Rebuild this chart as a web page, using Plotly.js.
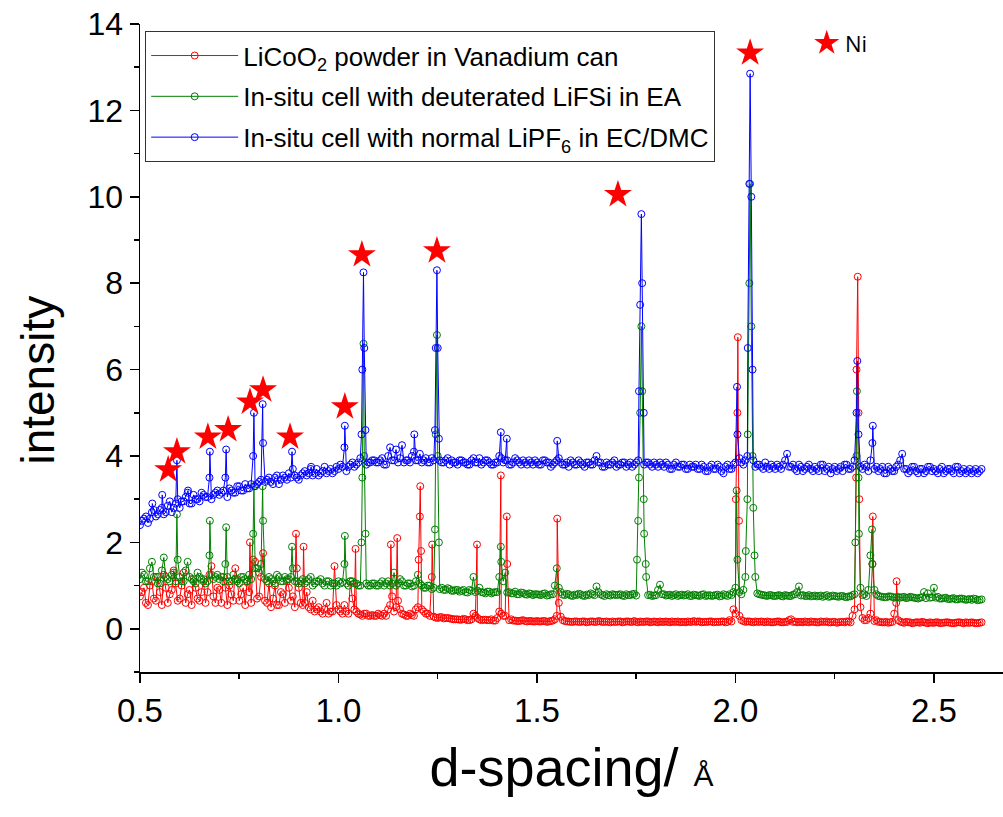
<!DOCTYPE html>
<html>
<head>
<meta charset="utf-8">
<script src="https://cdn.plot.ly/plotly-3.0.1.min.js"></script>
<style>html,body{margin:0;padding:0;background:#fff;}#chart{width:1003px;height:817px;}</style>
</head>
<body>
<div id="chart"></div>
<script>
// d-spacing grid (Å)
const dGrid = [
0.50,0.51,0.52,0.53,0.54,0.55,0.56,0.57,0.58,0.59,
0.60,0.61,0.62,0.63,0.64,0.65,0.66,0.67,0.68,0.69,
0.70,0.71,0.72,0.73,0.74,0.75,0.76,0.77,0.78,0.79,
0.80,0.81,0.82,0.83,0.84,0.85,0.86,0.87,0.88,0.89,
0.90,0.91,0.92,0.93,0.94,0.95,0.96,0.97,0.98,0.99,
1.00,1.01,1.02,1.03,1.04,1.05,1.06,1.07,1.08,1.09,
1.10,1.11,1.12,1.13,1.14,1.15,1.16,1.17,1.18,1.19,
1.20,1.21,1.22,1.23,1.24,1.25,1.26,1.27,1.28,1.29,
1.30,1.31,1.32,1.33,1.34,1.35,1.36,1.37,1.38,1.39,
1.40,1.41,1.42,1.43,1.44,1.45,1.46,1.47,1.48,1.49,
1.50,1.51,1.52,1.53,1.54,1.55,1.56,1.57,1.58,1.59,
1.60,1.61,1.62,1.63,1.64,1.65,1.66,1.67,1.68,1.69,
1.70,1.71,1.72,1.73,1.74,1.75,1.76,1.77,1.78,1.79,
1.80,1.81,1.82,1.83,1.84,1.85,1.86,1.87,1.88,1.89,
1.90,1.91,1.92,1.93,1.94,1.95,1.96,1.97,1.98,1.99,
2.00,2.01,2.02,2.03,2.04,2.05,2.06,2.07,2.08,2.09,
2.10,2.11,2.12,2.13,2.14,2.15,2.16,2.17,2.18,2.19,
2.20,2.21,2.22,2.23,2.24,2.25,2.26,2.27,2.28,2.29,
2.30,2.31,2.32,2.33,2.34,2.35,2.36,2.37,2.38,2.39,
2.40,2.41,2.42,2.43,2.44,2.45,2.46,2.47,2.48,2.49,
2.50,2.51,2.52,2.53,2.54,2.55,2.56,2.57,2.58,2.59,
2.60,2.61,2.62];
// interleaved half-step positions (Å)
const dHalf = [
0.505,0.515,0.525,0.535,0.545,0.555,0.565,0.575,0.585,0.595,
0.605,0.615,0.625,0.635,0.645,0.655,0.665,0.675,0.685,0.695,
0.705,0.715,0.725,0.735,0.745,0.755,0.765,0.775,0.785,0.795,
0.805,0.815,0.825,0.835,0.845,0.855,0.865,0.875,0.885,0.895,
0.905,0.915,0.925,0.935,0.945,0.955,0.965,0.975,0.985,0.995,
1.005,1.015,1.025,1.035,1.045,1.055,1.065,1.075,1.085,1.095,
1.105,1.115,1.125,1.135,1.145,1.155,1.165,1.175,1.185,1.195,
1.205,1.215,1.225,1.235,1.245,1.255,1.265,1.275,1.285,1.295,
1.305,1.315,1.325,1.335,1.345,1.355,1.365,1.375,1.385,1.395,
1.405,1.415,1.425,1.435,1.445,1.455,1.465,1.475,1.485,1.495,
1.505,1.515,1.525,1.535,1.545,1.555,1.565,1.575,1.585,1.595,
1.605,1.615,1.625,1.635,1.645,1.655,1.665,1.675,1.685,1.695,
1.705,1.715,1.725,1.735,1.745,1.755,1.765,1.775,1.785,1.795,
1.805,1.815,1.825,1.835,1.845,1.855,1.865,1.875,1.885,1.895,
1.905,1.915,1.925,1.935,1.945,1.955,1.965,1.975,1.985,1.995,
2.005,2.015,2.025,2.035,2.045,2.055,2.065,2.075,2.085,2.095,
2.105,2.115,2.125,2.135,2.145,2.155,2.165,2.175,2.185,2.195,
2.205,2.215,2.225,2.235,2.245,2.255,2.265,2.275,2.285,2.295,
2.305,2.315,2.325,2.335,2.345,2.355,2.365,2.375,2.385,2.395,
2.405,2.415,2.425,2.435,2.445,2.455,2.465,2.475,2.485,2.495,
2.505,2.515,2.525,2.535,2.545,2.555,2.565,2.575,2.585,2.595,
2.605,2.615];

// LiCoO2 powder in Vanadium can (red)
const redGrid = [
0.75,0.95,0.55,1.10,0.65,0.85,1.25,0.60,0.90,1.05,
0.70,1.30,0.80,0.55,0.95,0.65,1.10,0.85,1.45,0.60,
0.90,1.20,0.55,0.80,1.40,0.65,0.95,1.10,0.60,1.55,
0.75,1.75,0.60,0.50,1.00,0.55,0.80,1.10,0.65,0.50,
0.95,0.55,0.85,0.45,0.40,0.50,0.35,0.60,0.40,1.45,
0.45,0.35,0.40,1.10,0.45,0.35,0.30,0.35,0.30,0.30,
0.35,0.30,0.30,0.55,0.40,0.65,0.35,0.30,0.35,0.30,
0.50,0.45,0.35,0.30,0.28,0.25,0.27,0.25,0.24,0.22,
0.22,0.21,0.22,0.20,0.35,0.25,0.20,0.21,0.20,0.19,
0.25,0.35,0.30,0.20,0.19,0.18,0.19,0.18,0.18,0.17,
0.18,0.17,0.18,0.17,0.19,0.30,0.28,0.18,0.17,0.16,
0.17,0.16,0.17,0.16,0.17,0.16,0.17,0.16,0.16,0.17,
0.16,0.17,0.16,0.17,0.16,0.16,0.17,0.16,0.17,0.16,
0.16,0.17,0.16,0.16,0.17,0.16,0.15,0.16,0.17,0.16,
0.16,0.17,0.16,0.16,0.17,0.16,0.16,0.17,0.16,0.17,
0.35,0.30,0.18,0.17,0.16,0.17,0.16,0.16,0.17,0.15,
0.16,0.17,0.15,0.16,0.22,0.17,0.16,0.15,0.16,0.17,
0.16,0.15,0.16,0.17,0.15,0.16,0.15,0.16,0.17,0.15,
0.45,5.00,0.25,0.20,0.35,0.18,0.16,0.15,0.16,0.15,
0.35,0.20,0.15,0.16,0.15,0.14,0.15,0.16,0.14,0.15,
0.14,0.15,0.14,0.15,0.14,0.13,0.15,0.14,0.15,0.14,
0.14,0.13,0.15];
const redHalf = [
0.85,0.60,1.00,0.70,1.20,0.55,0.95,0.80,1.35,0.65,
1.00,0.60,0.90,1.15,0.70,0.85,0.60,1.25,0.75,0.95,
0.60,0.95,1.00,0.65,1.15,0.80,0.55,0.85,1.60,0.70,
1.20,0.65,1.05,0.70,0.55,0.85,0.60,0.95,0.75,1.40,
0.60,0.60,0.50,0.65,0.45,0.40,0.45,0.35,0.40,0.55,
0.40,0.55,0.35,0.70,0.40,0.33,0.35,0.30,0.32,0.30,
0.32,0.35,0.45,0.75,0.50,0.45,0.33,0.30,0.32,0.45,
2.60,0.40,0.35,1.20,0.26,0.27,0.24,0.25,0.23,0.22,
0.21,0.23,0.20,0.22,0.30,0.22,0.21,0.20,0.22,0.19,
0.40,0.30,1.50,0.22,0.19,0.18,0.20,0.17,0.18,0.17,
0.17,0.18,0.16,0.18,0.22,0.60,0.20,0.17,0.16,0.17,
0.16,0.17,0.15,0.17,0.16,0.18,0.16,0.17,0.15,0.16,
0.17,0.15,0.17,0.16,0.18,0.15,0.16,0.17,0.15,0.17,
0.15,0.16,0.17,0.15,0.16,0.17,0.16,0.15,0.16,0.18,
0.17,0.15,0.16,0.17,0.15,0.16,0.17,0.15,0.20,0.45,
5.00,0.20,0.16,0.17,0.15,0.16,0.17,0.15,0.16,0.15,
0.17,0.15,0.16,0.20,0.16,0.15,0.16,0.17,0.15,0.16,
0.15,0.17,0.16,0.15,0.16,0.14,0.16,0.15,0.17,0.30,
6.00,0.50,0.20,0.25,1.50,0.20,0.16,0.15,0.14,0.16,
0.60,0.17,0.14,0.15,0.13,0.15,0.14,0.15,0.13,0.14,
0.15,0.13,0.14,0.15,0.13,0.14,0.15,0.13,0.14,0.15,
0.13,0.14];
const redPeakD = [0.777,0.893,0.912,1.043,1.132,1.148,1.202,1.206,1.208,1.236,1.349,1.409,1.424,1.551,2.001,2.006,2.009,2.304,2.308,2.312,2.346,2.406];
const redPeakI = [2.00,2.20,1.90,1.85,1.95,2.10,1.60,3.30,1.80,1.95,1.95,3.55,2.60,2.55,3.00,6.75,2.50,3.50,8.15,3.00,2.60,1.10];

// In-situ cell with deuterated LiFSi in EA (green)
const greenGrid = [
1.15,1.25,1.10,1.55,1.20,1.05,1.65,1.15,1.25,1.10,
1.20,1.10,1.55,1.15,1.05,1.20,1.15,1.10,1.25,1.20,
1.15,1.10,1.20,1.10,1.15,1.05,1.20,1.10,1.15,1.40,
1.30,2.50,1.10,1.15,1.05,1.20,1.10,1.15,1.20,1.10,
1.05,1.15,1.10,1.20,1.05,1.10,1.05,1.10,1.00,1.05,
1.10,1.08,1.05,1.10,1.05,1.00,3.50,1.05,1.00,1.05,
1.00,1.10,1.05,1.00,1.30,1.05,1.10,1.00,1.05,1.00,
1.25,1.00,0.95,1.00,0.95,4.00,0.95,0.90,0.92,0.88,
0.90,0.88,0.85,0.90,1.20,0.88,0.85,0.82,0.86,0.84,
0.85,1.55,1.30,0.85,0.82,0.80,0.84,0.80,0.82,0.78,
0.80,0.78,0.82,0.78,0.80,1.40,0.85,0.78,0.80,0.76,
0.78,0.80,0.76,0.78,0.80,0.98,0.80,0.76,0.78,0.80,
0.78,0.80,0.76,0.78,0.80,0.77,5.00,2.20,0.78,0.76,
0.78,1.02,0.80,0.78,0.76,0.80,0.78,0.77,0.80,0.76,
0.78,0.76,0.80,0.77,0.76,0.78,0.75,0.80,0.76,0.78,
0.95,0.85,0.90,3.00,7.00,1.20,0.80,0.78,0.76,0.78,
0.76,0.78,0.75,0.77,0.76,0.80,0.98,0.78,0.76,0.75,
0.77,0.76,0.74,0.78,0.75,0.76,0.74,0.76,0.73,0.75,
0.80,3.50,0.78,0.76,1.70,0.90,0.76,0.74,0.73,0.75,
0.72,0.74,0.73,0.71,0.74,0.72,0.70,0.73,0.71,0.72,
0.95,0.74,0.70,0.72,0.69,0.71,0.68,0.70,0.67,0.69,
0.70,0.66,0.68];
const greenHalf = [
1.30,1.10,1.40,1.20,1.05,1.35,1.20,1.10,1.30,1.60,
1.10,1.35,1.20,1.10,1.30,1.15,1.05,1.70,1.15,1.25,
1.20,1.50,1.10,1.25,1.10,1.20,1.15,1.25,2.20,1.40,
1.50,1.15,1.20,1.10,1.25,1.10,1.20,1.15,1.40,1.10,
1.10,1.05,1.15,1.00,1.10,1.15,1.00,1.10,1.05,1.00,
1.05,1.50,1.00,1.10,1.05,1.00,4.00,1.00,1.05,1.00,
1.05,1.00,1.10,1.05,1.00,1.15,1.00,1.05,0.98,1.10,
1.05,0.95,1.00,0.92,4.50,0.92,0.90,0.94,0.88,0.90,
0.86,0.90,0.84,0.88,0.85,0.95,0.84,0.86,0.82,0.85,
1.20,1.10,0.84,0.82,0.86,0.80,0.83,0.79,0.81,0.80,
0.79,0.81,0.77,0.80,1.00,0.95,0.79,0.81,0.77,0.79,
0.81,0.77,0.79,0.82,0.78,0.85,0.78,0.80,0.77,0.79,
0.79,0.77,0.80,0.78,0.81,2.50,5.50,1.20,0.79,0.77,
0.90,0.80,0.77,0.79,0.78,0.76,0.79,0.78,0.76,0.79,
0.77,0.79,0.76,0.78,0.77,0.79,0.76,0.78,0.80,0.85,
1.60,0.80,1.20,8.00,2.80,0.82,0.79,0.77,0.78,0.76,
0.77,0.76,0.78,0.76,0.79,0.85,0.77,0.76,0.78,0.76,
0.75,0.77,0.76,0.74,0.77,0.75,0.76,0.74,0.75,0.78,
4.00,0.95,0.80,0.90,1.50,0.80,0.75,0.73,0.75,0.74,
0.73,0.72,0.74,0.72,0.73,0.71,0.72,0.85,0.82,0.73,
0.72,0.70,0.71,0.69,0.70,0.68,0.70,0.69,0.68,0.67,
0.69,0.67];
const greenPeakD = [0.593,0.676,0.717,0.787,0.809,0.883,1.016,1.058,1.063,1.068,1.243,1.248,1.253,1.409,1.752,1.757,1.763,1.769,1.774,2.003,2.026,2.031,2.037,2.043,2.048,2.302,2.306,2.311,2.344];
const greenPeakI = [2.65,2.50,2.35,3.30,3.30,1.90,2.15,2.00,6.60,2.20,2.30,6.80,2.00,1.90,1.60,3.50,7.00,3.00,1.50,3.20,1.80,4.50,10.30,4.00,1.70,2.00,5.50,2.20,2.30];

// In-situ cell with normal LiPF6 in EC/DMC (blue)
const blueGrid = [
2.40,2.55,2.45,2.70,2.60,2.75,2.65,2.85,2.70,2.90,
2.80,2.95,3.15,2.90,3.00,2.95,3.10,3.05,3.00,3.15,
3.10,3.20,3.05,3.20,3.15,3.30,3.20,3.25,3.35,3.30,
3.40,4.30,3.45,3.40,3.50,3.35,3.55,3.45,3.50,3.55,
3.45,3.60,3.55,3.70,3.60,3.55,3.65,3.60,3.70,3.65,
3.70,3.75,3.65,3.80,3.75,3.85,6.00,3.80,3.85,3.90,
3.85,3.95,3.80,4.20,3.90,3.85,4.25,3.90,3.85,4.10,
3.90,3.85,3.95,3.85,3.90,6.50,3.85,3.90,3.80,3.85,
3.80,3.90,3.85,3.80,3.95,3.85,3.80,3.90,3.85,3.80,
3.85,3.95,3.90,3.80,3.85,3.90,3.80,3.85,3.90,3.80,
3.85,3.80,3.90,3.85,3.80,3.90,3.85,3.80,3.75,3.85,
3.80,3.85,3.75,3.85,3.80,4.00,3.85,3.75,3.80,3.85,
3.75,3.80,3.85,3.80,3.75,3.85,7.50,3.80,3.85,3.75,
3.80,3.85,3.75,3.80,3.70,3.85,3.75,3.80,3.70,3.75,
3.80,3.70,3.75,3.65,3.80,3.70,3.75,3.60,3.80,3.70,
3.85,3.95,3.80,4.00,10.00,3.75,3.80,3.70,3.75,3.80,
3.70,3.75,3.80,4.05,3.75,3.70,3.80,3.65,3.75,3.70,
3.75,3.65,3.80,3.70,3.60,3.75,3.70,3.65,3.80,3.70,
3.90,4.50,3.70,3.75,3.90,3.70,3.65,3.75,3.60,3.70,
3.65,3.80,4.05,3.70,3.65,3.75,3.60,3.70,3.65,3.75,
3.70,3.60,3.75,3.65,3.70,3.60,3.75,3.65,3.60,3.70,
3.65,3.60,3.70];
const blueHalf = [
2.50,2.60,2.55,2.75,2.65,2.80,2.70,2.95,2.80,3.00,
2.95,3.05,2.90,3.10,3.00,3.15,3.05,3.50,3.10,3.20,
3.15,3.50,3.25,3.15,3.30,3.20,3.35,3.25,4.00,3.35,
3.45,3.40,3.50,3.35,3.55,3.45,3.50,3.60,3.70,3.50,
3.55,3.65,3.60,3.55,3.70,3.60,3.75,3.65,3.60,3.75,
3.80,4.20,3.75,3.85,3.80,3.95,6.50,3.85,3.90,3.85,
3.90,3.80,4.00,3.90,4.15,3.95,3.85,3.90,4.00,3.90,
4.05,3.90,3.85,3.95,6.50,3.90,3.85,3.95,3.90,3.85,
3.90,3.85,3.80,3.90,3.85,3.95,3.85,3.90,3.80,3.85,
4.00,3.85,3.90,3.80,3.95,3.85,3.90,3.80,3.85,3.90,
3.80,3.90,3.85,3.75,3.85,3.95,3.80,3.85,3.90,3.80,
3.90,3.80,3.85,3.80,3.90,3.85,3.75,3.85,3.80,3.90,
3.80,3.85,3.75,3.85,3.80,3.90,8.00,3.85,3.80,3.85,
3.75,3.80,3.85,3.70,3.80,3.75,3.80,3.70,3.80,3.75,
3.70,3.80,3.65,3.75,3.70,3.80,3.65,3.75,3.70,3.80,
4.50,3.85,3.90,10.30,3.90,3.80,3.75,3.85,3.70,3.75,
3.80,3.70,3.90,3.75,3.80,3.65,3.75,3.70,3.80,3.65,
3.70,3.80,3.65,3.75,3.70,3.65,3.75,3.80,3.70,3.75,
5.00,3.75,3.80,3.65,4.30,3.75,3.70,3.60,3.75,3.65,
3.75,3.90,3.70,3.60,3.75,3.65,3.70,3.60,3.75,3.65,
3.65,3.70,3.60,3.70,3.65,3.75,3.60,3.70,3.65,3.60,
3.70,3.65];
const bluePeakD = [0.531,0.556,0.593,0.621,0.676,0.717,0.787,0.809,0.883,0.931,1.016,1.058,1.063,1.068,1.191,1.243,1.248,1.253,1.409,1.424,1.551,1.757,1.763,1.769,2.004,2.031,2.037,2.043,2.307,2.346];
const bluePeakI = [2.90,3.10,3.90,3.20,4.10,4.15,5.00,5.20,4.10,3.75,4.70,4.50,8.25,4.60,4.50,4.60,8.30,4.40,4.55,4.40,4.35,5.50,9.60,5.00,5.60,6.50,12.85,6.00,6.20,4.70];

// Ni reflection markers
const starD = [0.571,0.593,0.671,0.722,0.777,0.810,0.878,1.016,1.059,1.248,1.704,2.037];
const starI = [3.68,4.10,4.44,4.61,5.25,5.53,4.44,5.14,8.66,8.75,10.05,13.33];
const niKeyD = [2.230];
const niKeyI = [13.56];

const seriesNames = [
  'LiCoO<sub>2</sub> powder in Vanadium can',
  'In-situ cell with deuterated LiFSi in EA',
  'In-situ cell with normal LiPF<sub>6</sub> in EC/DMC'
];
const seriesColors = ['#ff0000', '#008000', '#0000ff'];

function merge(grid, half, pd, pi) {
  const pts = [];
  for (let i = 0; i < dGrid.length; i++) pts.push([dGrid[i], grid[i]]);
  for (let i = 0; i < dHalf.length; i++) pts.push([dHalf[i], half[i]]);
  for (let i = 0; i < pd.length; i++) pts.push([pd[i], pi[i]]);
  pts.sort((a, b) => a[0] - b[0]);
  return {x: pts.map(p => p[0]), y: pts.map(p => p[1])};
}

const sets = [
  merge(redGrid, redHalf, redPeakD, redPeakI),
  merge(greenGrid, greenHalf, greenPeakD, greenPeakI),
  merge(blueGrid, blueHalf, bluePeakD, bluePeakI)
];

const FONT = 'Liberation Sans, Arial, sans-serif';

const traces = sets.map((s, k) => ({
  type: 'scatter', mode: 'lines+markers', name: seriesNames[k],
  legendgroup: 'g' + k,
  x: s.x, y: s.y,
  line: {color: seriesColors[k], width: 1},
  marker: {symbol: 'circle-open', size: 7, color: seriesColors[k], line: {width: 1}}
}));

traces.push({
  type: 'scatter', mode: 'markers', x: starD, y: starI, showlegend: false,
  marker: {symbol: 'star', size: 21, color: '#ff0000', line: {width: 0}}
});
traces.push({
  type: 'scatter', mode: 'markers', x: niKeyD, y: niKeyI, showlegend: false,
  marker: {symbol: 'star', size: 19, color: '#ff0000', line: {width: 0}}
});

const layout = {
  width: 1003, height: 817,
  margin: {l: 140, r: 0, t: 24, b: 145},
  paper_bgcolor: '#fff', plot_bgcolor: '#fff',
  font: {family: FONT, color: '#000'},
  showlegend: true,
  legend: {
    x: 0.006, y: 0.989, xanchor: 'left', yanchor: 'top',
    bgcolor: '#fff', bordercolor: '#333', borderwidth: 1,
    font: {family: FONT, size: 26, color: '#000'},
    itemwidth: 87, traceorder: 'grouped', tracegroupgap: 4
  },
  xaxis: {
    range: [0.5, 2.674], tick0: 0.5, dtick: 0.5, tickformat: '.1f',
    showgrid: false, zeroline: false, showline: true, linecolor: '#000', linewidth: 1.5,
    ticks: 'outside', ticklen: 9, tickwidth: 1.5, tickcolor: '#000',
    minor: {dtick: 0.25, ticks: 'outside', ticklen: 5, tickwidth: 1.5, tickcolor: '#000', showgrid: false},
    tickfont: {family: FONT, size: 33, color: '#000'},
    title: {text: 'd-spacing/ <span style="font-size:30px">Å</span>', font: {family: FONT, size: 54, color: '#000'}, standoff: 20}
  },
  yaxis: {
    range: [-1, 14], tick0: 0, dtick: 2,
    showgrid: false, zeroline: false, showline: true, linecolor: '#000', linewidth: 1.5,
    ticks: 'outside', ticklen: 9, tickwidth: 1.5, tickcolor: '#000',
    minor: {dtick: 1, ticks: 'outside', ticklen: 5, tickwidth: 1.5, tickcolor: '#000', showgrid: false},
    tickfont: {family: FONT, size: 32, color: '#000'}
  },
  annotations: [
    {xref: 'paper', yref: 'paper', x: -0.118, y: 0.45, xanchor: 'center', yanchor: 'middle',
     text: 'intensity', textangle: -90, showarrow: false, font: {family: FONT, size: 46, color: '#000'}},
    {xref: 'x', yref: 'y', x: 2.272, y: 13.56, xanchor: 'left', yanchor: 'middle',
     text: 'Ni', showarrow: false, font: {family: 'Open Sans, Liberation Sans, sans-serif', size: 22, color: '#000'}}
  ]
};

Plotly.newPlot('chart', traces, layout, {displayModeBar: false, staticPlot: true});
</script>
</body>
</html>
